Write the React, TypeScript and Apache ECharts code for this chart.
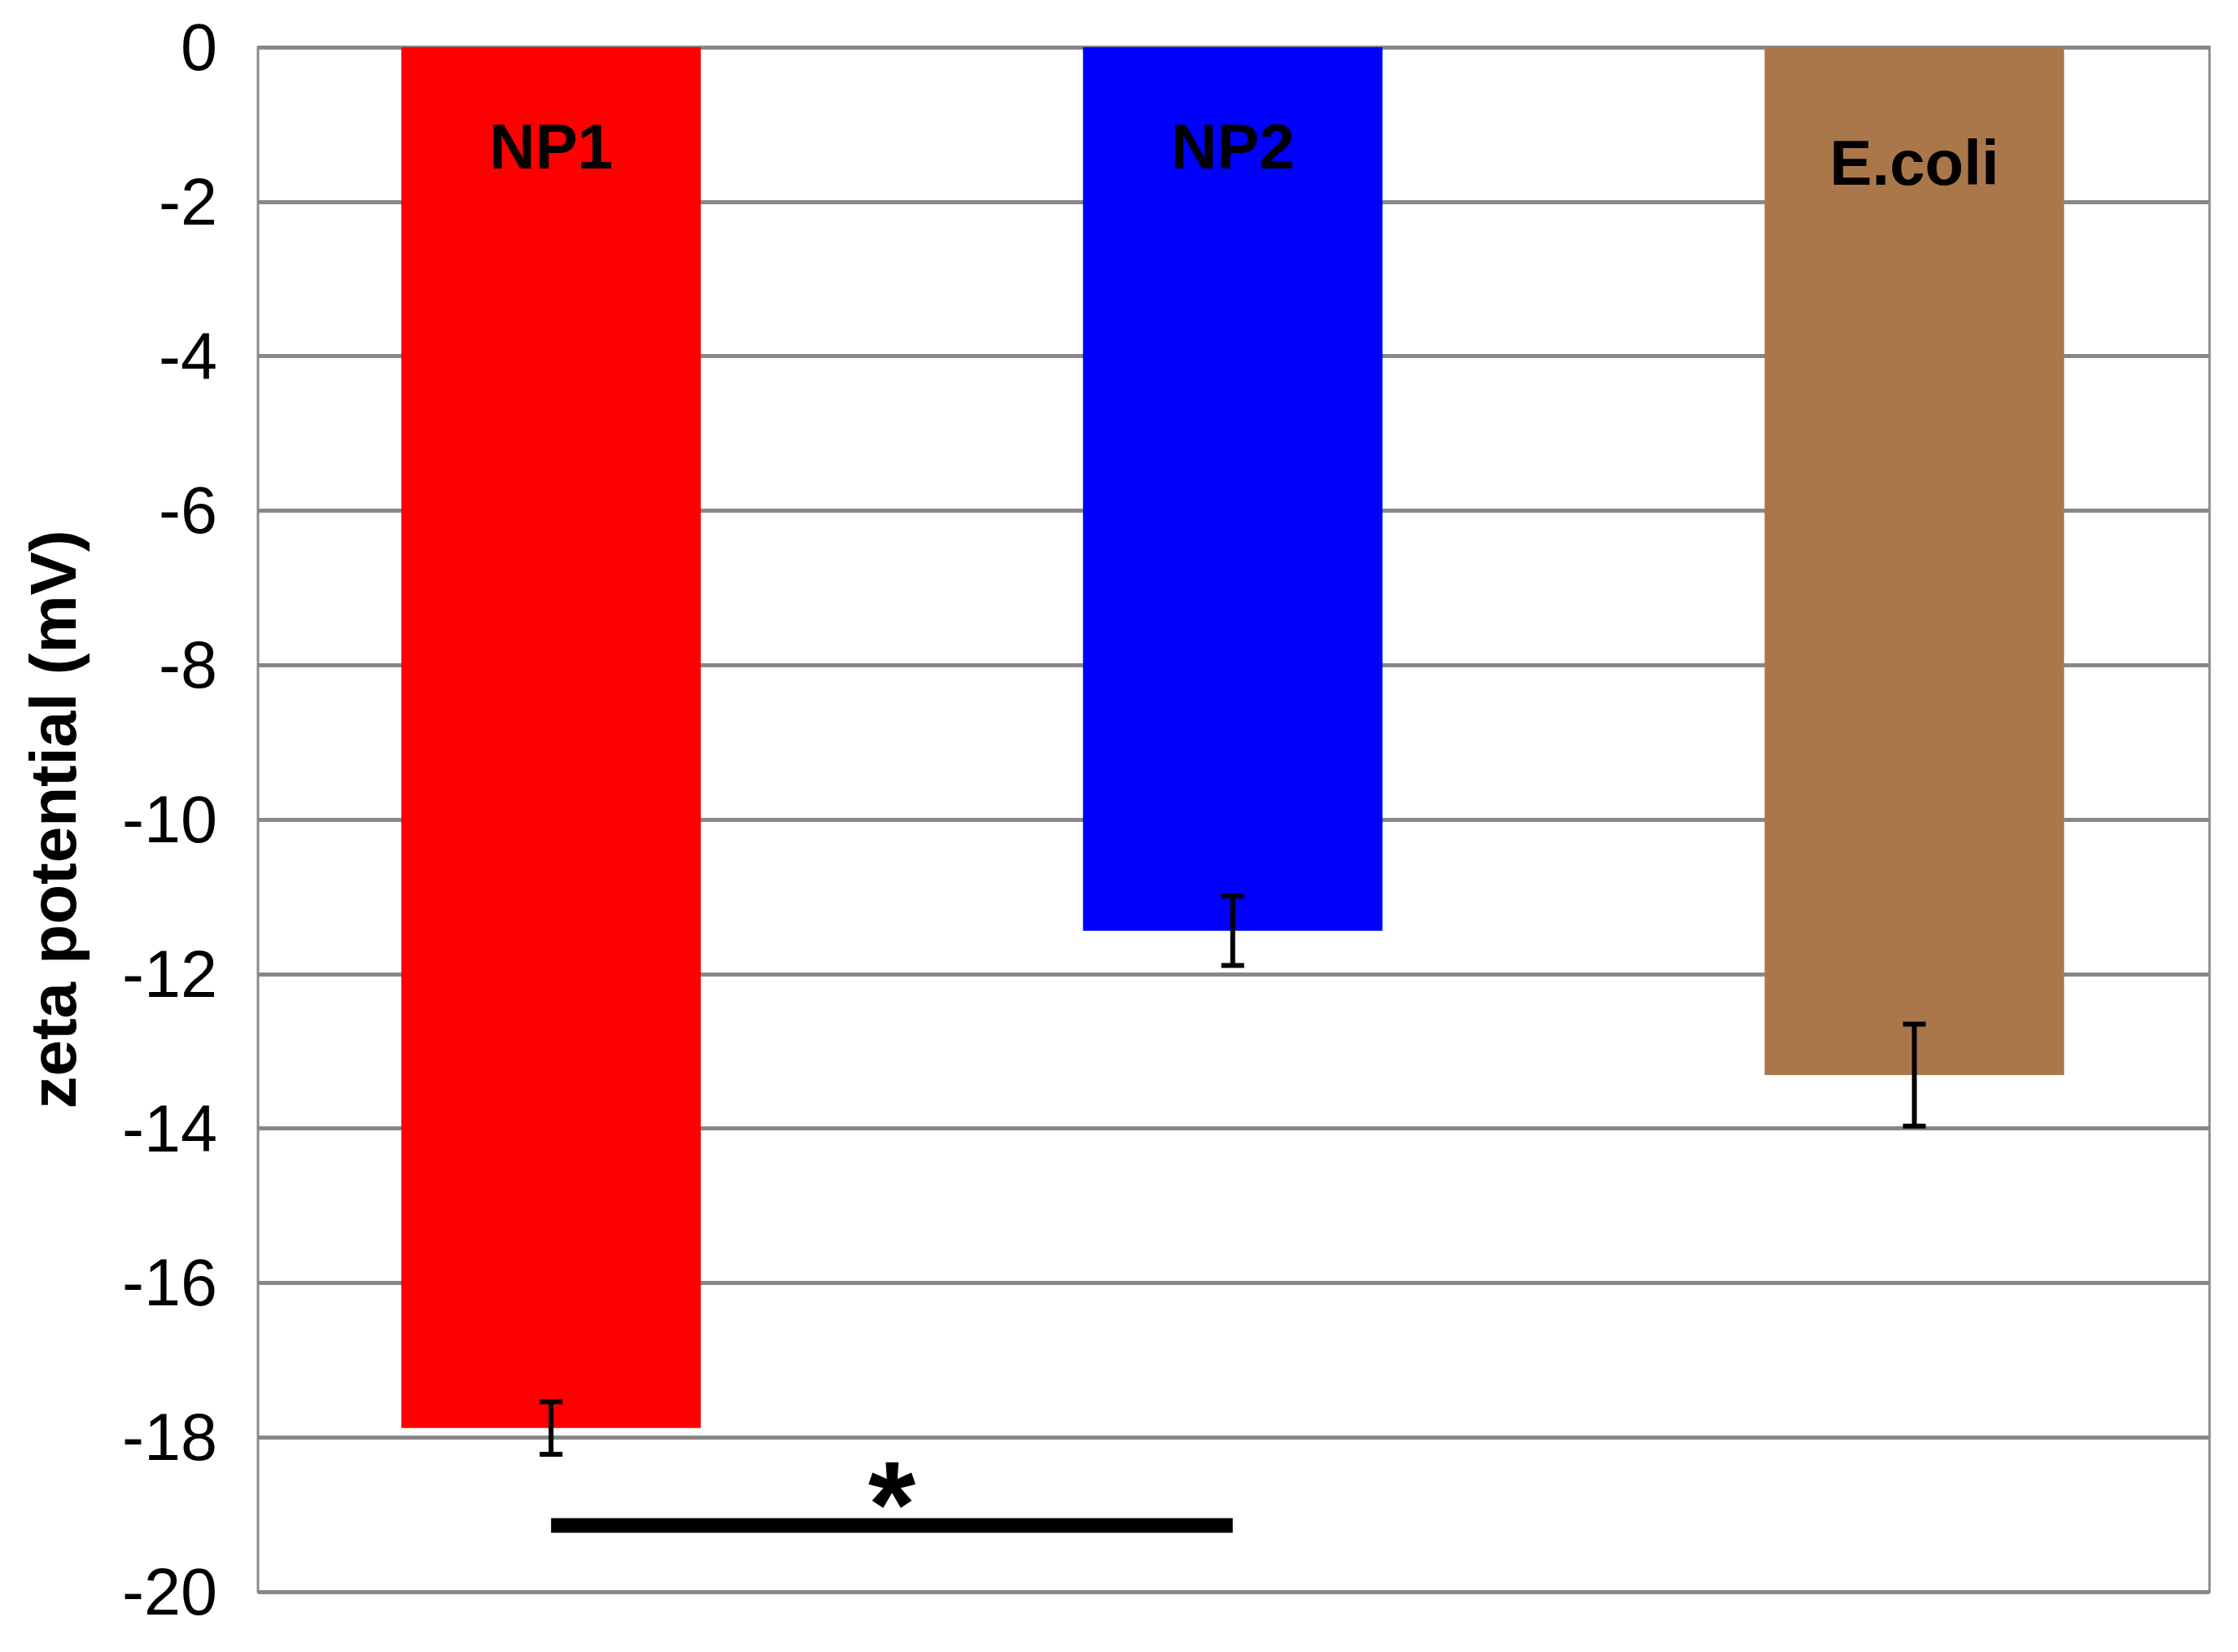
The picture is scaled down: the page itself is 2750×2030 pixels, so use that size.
import React, { useEffect, useRef } from "react";
import * as echarts from "echarts";

const categories = ["NP1", "NP2", "E.coli"];
const positions = [0, 1, 2];
const values = [-17.88, -11.44, -13.31];
const errors = [0.34, 0.45, 0.66];
const labelY = [-1.29, -1.29, -1.5];
const barColors = ["#FF0000", "#0000FF", "#AA774B"];
const yTicksMin = -20;
const yTicksMax = 0;
const yTickStep = 2;
const sigFrom = 0;
const sigTo = 1;
const sigY = -19.14;
const starY = -18.87;

const FONT = "'Liberation Sans', Arial, sans-serif";

export default function App() {
  const ref = useRef<HTMLDivElement>(null);
  useEffect(() => {
    document.body.style.margin = "0";
    if (!ref.current) return;
    const chart = echarts.init(ref.current, undefined, { renderer: "svg" });
    const barData = positions.map((p, i) => ({
      value: [p, values[i]],
      itemStyle: { color: barColors[i] },
    }));
    const errData = positions.map((p, i) => [p, values[i], errors[i]]);
    const labelData = positions.map((p, i) => [p, labelY[i], categories[i]]);
    chart.setOption({
      animation: false,
      backgroundColor: "#ffffff",
      grid: {
        left: 317,
        right: 35,
        top: 58,
        bottom: 74,
        show: true,
        borderColor: "#8a8a8a",
        borderWidth: 3,
      },
      xAxis: {
        type: "value",
        min: -0.43,
        max: 2.433,
        axisLine: { show: false },
        axisTick: { show: false },
        axisLabel: { show: false },
        splitLine: { show: false },
      },
      yAxis: {
        type: "value",
        min: yTicksMin,
        max: yTicksMax,
        interval: yTickStep,
        name: "zeta potential (mV)",
        nameLocation: "middle",
        nameRotate: 90,
        nameGap: 212,
        nameTextStyle: {
          fontSize: 80,
          fontWeight: "bold",
          fontFamily: FONT,
          color: "#000",
        },
        axisLine: { show: false, onZero: false },
        axisTick: { show: false },
        axisLabel: {
          fontSize: 81,
          fontFamily: FONT,
          color: "#000",
          margin: 50,
        },
        splitLine: { show: true, lineStyle: { color: "#888888", width: 5 } },
      },
      series: [
        {
          type: "bar",
          data: barData,
          barWidth: 368,
          z: 2,
        },
        {
          type: "custom",
          z: 5,
          data: errData,
          renderItem: (params: any, api: any) => {
            const x = api.value(0);
            const v = api.value(1);
            const e = api.value(2);
            const top = api.coord([x, v + e]);
            const bot = api.coord([x, v - e]);
            const hw = 14;
            const st = { stroke: "#000", lineWidth: 6 };
            return {
              type: "group",
              children: [
                { type: "line", shape: { x1: top[0], y1: top[1], x2: bot[0], y2: bot[1] }, style: st },
                { type: "line", shape: { x1: top[0] - hw, y1: top[1], x2: top[0] + hw, y2: top[1] }, style: st },
                { type: "line", shape: { x1: bot[0] - hw, y1: bot[1], x2: bot[0] + hw, y2: bot[1] }, style: st },
              ],
            };
          },
        },
        {
          type: "custom",
          z: 6,
          data: labelData,
          renderItem: (params: any, api: any) => {
            const p = api.coord([api.value(0), api.value(1)]);
            return {
              type: "text",
              x: p[0],
              y: p[1],
              style: {
                text: categories[params.dataIndex],
                align: "center",
                verticalAlign: "middle",
                fontSize: 78,
                fontWeight: "bold",
                fontFamily: FONT,
                fill: "#000",
              },
            };
          },
        },
        {
          type: "custom",
          z: 6,
          data: [[sigFrom, sigTo, sigY, starY]],
          renderItem: (params: any, api: any) => {
            const a = api.coord([api.value(0), api.value(2)]);
            const b = api.coord([api.value(1), api.value(2)]);
            const s = api.coord([(api.value(0) + api.value(1)) / 2, api.value(3)]);
            return {
              type: "group",
              children: [
                { type: "line", shape: { x1: a[0], y1: a[1], x2: b[0], y2: b[1] }, style: { stroke: "#000", lineWidth: 18 } },
                {
                  type: "text",
                  x: s[0],
                  y: s[1],
                  style: {
                    text: "*",
                    align: "center",
                    verticalAlign: "middle",
                    fontSize: 150,
                    fontWeight: "bold",
                    fontFamily: FONT,
                    fill: "#000",
                  },
                },
              ],
            };
          },
        },
      ],
    });
    return () => chart.dispose();
  }, []);
  return <div ref={ref} style={{ width: 2750, height: 2030 }} />;
}
